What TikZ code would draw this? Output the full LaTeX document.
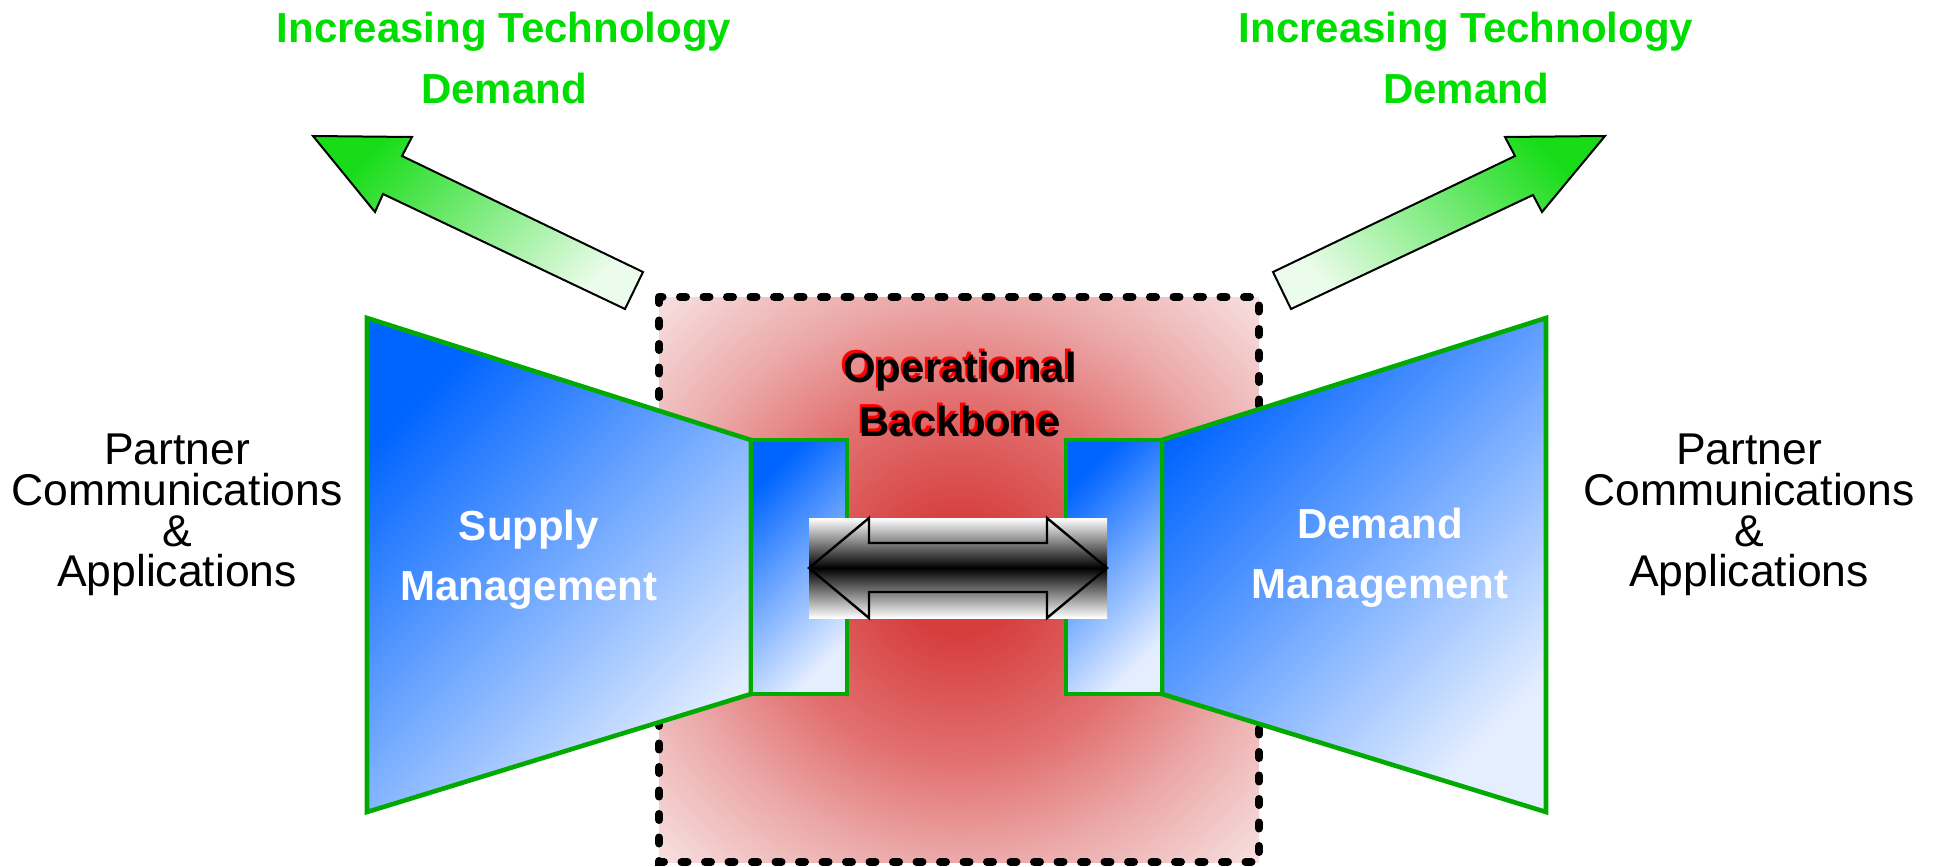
\documentclass[tikz,border=0pt]{standalone}
\usepackage{fontspec}
\setmainfont{Liberation Sans}
\definecolor{techgreen}{RGB}{0,221,0}
\definecolor{edgegreen}{RGB}{0,170,0}
\definecolor{mgmtblue}{RGB}{0,100,255}
\definecolor{paleblue}{RGB}{228,238,255}
\definecolor{bbred}{RGB}{214,62,62}
\definecolor{bbmid}{RGB}{226,112,112}
\definecolor{bbpink}{RGB}{236,170,170}
\definecolor{bbpale}{RGB}{248,228,228}
\definecolor{arrowgreen}{RGB}{25,220,25}
\definecolor{arrowpale}{RGB}{236,252,236}
\pgfdeclareradialshading{backbone}{\pgfpoint{0bp}{0bp}}{color(0bp)=(bbred); color(5bp)=(bbred); color(16bp)=(bbmid); color(25bp)=(bbpink); color(36bp)=(bbpale)}
\begin{document}
\begin{tikzpicture}[x=0.5pt,y=-0.5pt,
        titletext/.style={text=techgreen,font=\fontsize{21}{30.5}\selectfont\bfseries,align=center,inner sep=0pt},
        partnertext/.style={font=\fontsize{22.25}{20.35}\selectfont,align=center,inner sep=0pt},
        mgmttext/.style={text=white,font=\fontsize{21}{30}\selectfont\bfseries,align=center,inner sep=0pt},
        bbtext/.style={font=\fontsize{21}{27}\selectfont\bfseries,align=center,inner sep=0pt},
        mgmtshape/.style={draw=edgegreen,line width=2.3pt,top color=mgmtblue,bottom color=paleblue,shading angle=45},
        techarrow/.style={draw=black,line width=1pt,top color=arrowgreen,bottom color=arrowpale}]
        \useasboundingbox (0,0) rectangle (1939,867);
        % operational backbone
        \shade[shading=backbone] (659,297) rectangle (1259,862);
        \draw[line width=4pt,dash pattern=on 3pt off 8.75pt,line cap=round] (659,297) rectangle (1259,862);
        % supply and demand sides
        \path[mgmtshape] (367,318) -- (751,440) -- (751,694) -- (367,812) -- cycle;
        \path[mgmtshape] (1546,318) -- (1162,440) -- (1162,694) -- (1546,812) -- cycle;
        \path[mgmtshape] (751,440) rectangle (847,694);
        \path[mgmtshape] (1066,440) rectangle (1162,694);
        % exchange arrow
        \shade[top color=white,bottom color=white,middle color=black] (809,518) rectangle (1107,618);
        \draw[line width=1.2pt] (809,568) -- (869,518) -- (869,543) -- (1047,543) -- (1047,518) -- (1107,568)
            -- (1047,618) -- (1047,592) -- (869,592) -- (869,618) -- cycle;
        % technology demand arrows
        \path[techarrow,shading angle=45] (313,136) -- (412,137) -- (402,156) -- (643,272) -- (625,309) -- (383,194) -- (375,212) -- cycle;
        \path[techarrow,shading angle=-45] (1605,136) -- (1505,137) -- (1515,156) -- (1273,272) -- (1291,309) -- (1533,195) -- (1542,212) -- cycle;
        % labels
        \node[titletext] (demandL) at (504,58) {Increasing Technology\\Demand};
        \node[titletext] (demandR) at (1466,58) {Increasing Technology\\Demand};
        \node[partnertext] (partnerL) at (177,515) {Partner\\Communications\\\&\\Applications};
        \node[partnertext] (partnerR) at (1749,515) {Partner\\Communications\\\&\\Applications};
        \node[mgmttext] (supply) at (529,560) {Supply\\Management};
        \node[mgmttext] (demand) at (1380,558) {Demand\\Management};
        \node[bbtext,text=red] (backboneshadow) at (957.5,391.5) {Operational\\Backbone};
        \node[bbtext] (backbone) at (960,394) {Operational\\Backbone};
    \end{tikzpicture}
\end{document}
